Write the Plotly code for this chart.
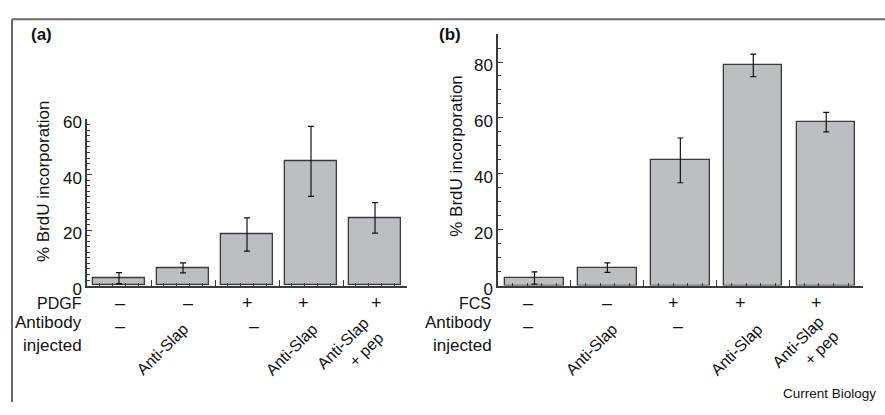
import plotly.graph_objects as go

W, H = 885, 415

# ---- data ----
conditions = [0, 1, 2, 3, 4]
brdu_a = [2.7, 6.4, 18.4, 44.8, 24.4]
err_a = [2.0, 1.8, 6.0, 12.6, 5.5]
brdu_b = [2.7, 6.4, 44.8, 78.8, 58.5]
err_b = [2.2, 1.7, 8.0, 4.0, 3.5]

pdgf_signs = ["–", "–", "+", "+", "+"]
fcs_signs = ["–", "–", "+", "+", "+"]
antibody_labels = ["–", "Anti-Slap", "–", "Anti-Slap", "Anti-Slap<br>+ pep"]
yticks_a = [0, 20, 40, 60]
yticks_b = [0, 20, 40, 60, 80]

FONT = "Liberation Sans, Arial, Helvetica, sans-serif"
BAR_FILL = "#bdbec2"
DARK = "#3a3a3a"

def px(x):
    return x / W

def py(y):
    return 1 - y / H

fig = go.Figure()

for xa, ya, vals, errs in [("x", "y", brdu_a, err_a), ("x2", "y2", brdu_b, err_b)]:
    fig.add_trace(go.Bar(
        x=conditions, y=vals, width=0.8, xaxis=xa, yaxis=ya,
        marker=dict(color=BAR_FILL, line=dict(color=DARK, width=1.3)),
        error_y=dict(type="data", array=errs, visible=True, color="#111",
                     thickness=1.2, width=3),
        showlegend=False, hoverinfo="skip",
    ))

bounds = [i - 0.5 for i in range(6)]
minor_x = [b + 0.2 * k for b in bounds[:-1] for k in range(1, 5)]

def xaxis_cfg(domain, anchor):
    return dict(domain=domain, anchor=anchor, range=[-0.5, 4.5], showline=True,
                linecolor=DARK, linewidth=1.5, tickvals=bounds, ticks="inside",
                ticklen=6, tickcolor=DARK, tickwidth=1.2, showticklabels=False,
                minor=dict(tickvals=minor_x, ticks="inside", ticklen=3,
                           tickcolor=DARK, tickwidth=1),
                showgrid=False, zeroline=False, fixedrange=True)

def yaxis_cfg(domain, anchor, rng, tickvals, minor_dt):
    return dict(domain=domain, anchor=anchor, range=rng, showline=True,
                linecolor=DARK, linewidth=1.5, tickvals=tickvals, ticks="inside",
                ticklen=5, tickcolor=DARK, tickwidth=1.2, ticklabelshift=3,
                tickfont=dict(size=17, color="#111", family=FONT),
                minor=dict(dtick=minor_dt, ticks="inside", ticklen=3,
                           tickcolor=DARK, tickwidth=1),
                showgrid=False, zeroline=False, fixedrange=True)

fig.update_layout(
    width=W, height=H, autosize=False,
    margin=dict(l=0, r=0, t=0, b=0),
    paper_bgcolor="white", plot_bgcolor="white",
    font=dict(family=FONT, size=17, color="#111"),
    xaxis=xaxis_cfg([px(87), px(407)], "y"),
    yaxis=yaxis_cfg([py(293), py(118.6)], "x", [0, 60], yticks_a, 2),
    xaxis2=xaxis_cfg([px(498), px(862.7)], "y2"),
    yaxis2=yaxis_cfg([py(293), py(29.4)], "x2", [0, 90], yticks_b, 5),
    bargap=0,
)

ann = []
def text(x, y, s, xref="paper", xanchor="center", yanchor="middle", size=17,
         angle=0, xshift=0, align="center", bold=False):
    ann.append(dict(x=x, y=y, xref=xref, yref="paper", text=("<b>%s</b>" % s if bold else s),
                    showarrow=False, xanchor=xanchor, yanchor=yanchor,
                    textangle=angle, xshift=xshift, align=align, borderpad=0,
                    font=dict(size=size, family=FONT, color="#111")))

# panel letters
text(px(41), py(30), "(a)", bold=True, size=17)
text(px(450), py(30), "(b)", bold=True, size=17)

# y titles
text(px(43.5), py(184), "% BrdU incorporation", angle=-90)
text(px(456.5), py(157.5), "% BrdU incorporation", angle=-90)

# row labels
text(px(82.5), py(312), "PDGF", xanchor="right", size=16)
text(px(82.5), py(332), "Antibody", xanchor="right")
text(px(82.5), py(356), "injected", xanchor="right")
text(px(492), py(312), "FCS", xanchor="right", size=16)
text(px(493), py(332), "Antibody", xanchor="right")
text(px(493), py(356), "injected", xanchor="right")

# sign rows
shift_a = [0.5, 4.5, 0, -8, 1]
shift_b = [-6, -0.5, -7, -12.5, -9.5]
for i, s in enumerate(pdgf_signs):
    text(conditions[i], py(311), s, xref="x", xshift=shift_a[i], size=18)
for i, s in enumerate(fcs_signs):
    text(conditions[i], py(311), s, xref="x2", xshift=shift_b[i], size=18)

ab_shift_a = [0.5, 9.5, 6.5, 11, 13]
ab_shift_b = [-6, 14.5, -2.5, 14, 17.5]
for i, s in enumerate(antibody_labels):
    if s == "–":
        text(conditions[i], py(335), s, xref="x", xshift=ab_shift_a[i], size=18)
        text(conditions[i], py(335), s, xref="x2", xshift=ab_shift_b[i], size=18)
    else:
        ytop = 322 if "<br>" in s else 328
        ytop_b = 320 if "<br>" in s else 328
        text(conditions[i], py(ytop), s, xref="x", xanchor="right", yanchor="top",
             angle=-45, xshift=ab_shift_a[i], align="right", size=16)
        text(conditions[i], py(ytop_b), s, xref="x2", xanchor="right", yanchor="top",
             angle=-45, xshift=ab_shift_b[i], align="right", size=16)

text(px(877), py(406), "Current Biology", xanchor="right", size=13.5)

fig.update_layout(annotations=ann)

# frame lines
fig.add_shape(type="line", xref="paper", yref="paper", x0=px(12), x1=px(12),
              y0=py(14), y1=py(415), line=dict(color="#6a6a6a", width=2))
fig.add_shape(type="line", xref="paper", yref="paper", x0=px(12), x1=px(885),
              y0=py(14), y1=py(14), line=dict(color="#6a6a6a", width=2))

fig.write_html("out.html", config={"displayModeBar": False},
               post_script="document.body.style.margin='0';document.body.style.overflow='hidden';")
